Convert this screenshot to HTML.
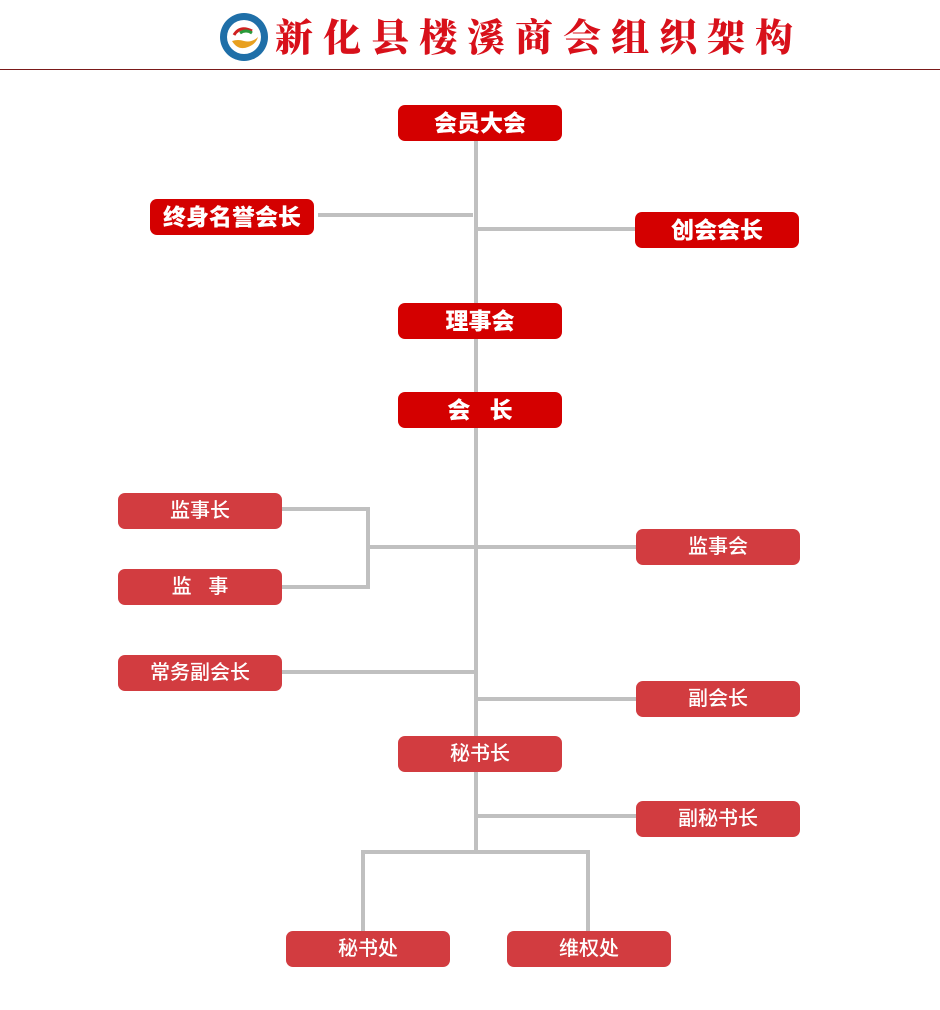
<!DOCTYPE html>
<html><head><meta charset="utf-8"><style>
body{margin:0;width:940px;height:1010px;background:#fff;position:relative;overflow:hidden;font-family:"Liberation Sans","Noto Sans CJK SC",sans-serif}
.t{position:absolute;left:275px;top:9px;font-family:"Noto Serif CJK SC",serif;font-weight:900;font-size:38px;color:#d8101a;letter-spacing:10px;white-space:nowrap;line-height:52px}
.hr{position:absolute;left:0;top:69px;width:940px;height:1px;background:#7a1a1a}
.n{position:absolute;width:164px;height:36px;border-radius:7px;color:#fff;text-align:center;line-height:36px;white-space:nowrap}
.a{background:#d40000;font-weight:900;font-size:23px}
.b{background:#d23c40;font-weight:500;font-size:20px}
.l{position:absolute;background:#c0c0c0}
</style></head><body>
<svg style="position:absolute;left:218px;top:11px" width="52" height="52"><circle cx="26" cy="26" r="24" fill="#1f6fa8"/><circle cx="26" cy="26" r="17" fill="#fff"/><path d="M14 30 q6 10 16 6 q8-3 10-10 q-6 6-14 4 q-6-2-12 0z" fill="#e8a020"/><path d="M16 24 q6-10 18-4" stroke="#d02020" stroke-width="3" fill="none"/><path d="M22 22 q6-4 12 0" stroke="#2a9a3a" stroke-width="3" fill="none"/></svg>
<div class="t">新化县楼溪商会组织架构</div>
<div class="hr"></div>

<div class="l" style="left:474px;top:141px;width:4px;height:713px"></div>
<div class="l" style="left:318px;top:213px;width:155px;height:4px"></div>
<div class="l" style="left:478px;top:227px;width:157px;height:4px"></div>
<div class="l" style="left:282px;top:507px;width:88px;height:4px"></div>
<div class="l" style="left:282px;top:585px;width:88px;height:4px"></div>
<div class="l" style="left:366px;top:507px;width:4px;height:82px"></div>
<div class="l" style="left:366px;top:545px;width:270px;height:4px"></div>
<div class="l" style="left:282px;top:670px;width:194px;height:4px"></div>
<div class="l" style="left:476px;top:697px;width:160px;height:4px"></div>
<div class="l" style="left:476px;top:814px;width:160px;height:4px"></div>
<div class="l" style="left:361px;top:850px;width:229px;height:4px"></div>
<div class="l" style="left:361px;top:850px;width:4px;height:81px"></div>
<div class="l" style="left:586px;top:850px;width:4px;height:81px"></div>

<div class="n a" style="left:398px;top:105px">会员大会</div>
<div class="n a" style="left:150px;top:199px">终身名誉会长</div>
<div class="n a" style="left:635px;top:212px">创会会长</div>
<div class="n a" style="left:398px;top:303px">理事会</div>
<div class="n a" style="left:398px;top:392px">会&nbsp;&nbsp;&nbsp;长</div>
<div class="n b" style="left:118px;top:493px">监事长</div>
<div class="n b" style="left:118px;top:569px">监&nbsp;&nbsp;&nbsp;事</div>
<div class="n b" style="left:636px;top:529px">监事会</div>
<div class="n b" style="left:118px;top:655px">常务副会长</div>
<div class="n b" style="left:636px;top:681px">副会长</div>
<div class="n b" style="left:398px;top:736px">秘书长</div>
<div class="n b" style="left:636px;top:801px">副秘书长</div>
<div class="n b" style="left:286px;top:931px">秘书处</div>
<div class="n b" style="left:507px;top:931px">维权处</div>
</body></html>
